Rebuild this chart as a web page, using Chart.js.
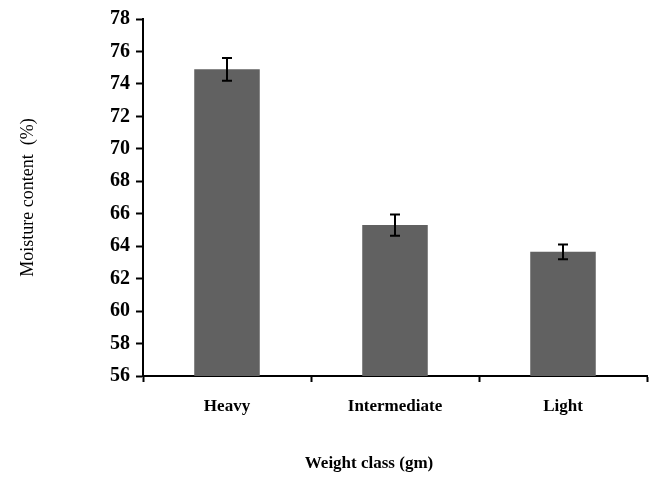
<!DOCTYPE html>
<html>
<head>
<meta charset="utf-8">
<script src="https://cdn.jsdelivr.net/npm/chart.js@4.4.1/dist/chart.umd.min.js"></script>
<style>
  html, body { margin: 0; padding: 0; background: #fff; }
  #wrap { width: 650px; height: 477px; position: relative; }
</style>
</head>
<body>
<div id="wrap"><canvas id="chart"></canvas></div>
<script>
// data
const categories = ['Heavy', 'Intermediate', 'Light'];
const moisture = [74.9, 65.3, 63.65];
const moistureErr = [0.7, 0.65, 0.45];
const yMin = 56;
const yMax = 78;
const yStep = 2;
const xTitle = 'Weight class (gm)';
const yTitle = 'Moisture content  (%)';

const serif = "'Liberation Serif', 'Times New Roman', serif";

// error bars drawn through the y scale
const errorBars = {
  id: 'errorBars',
  afterDatasetsDraw(chart) {
    const ctx = chart.ctx;
    const yScale = chart.scales.y;
    const meta = chart.getDatasetMeta(0);
    ctx.save();
    ctx.strokeStyle = '#000';
    ctx.lineWidth = 2;
    meta.data.forEach((bar, i) => {
      const top = yScale.getPixelForValue(moisture[i] + moistureErr[i]);
      const bot = yScale.getPixelForValue(moisture[i] - moistureErr[i]);
      const x = bar.x;
      ctx.beginPath();
      ctx.moveTo(x, top); ctx.lineTo(x, bot);
      ctx.moveTo(x - 5, top); ctx.lineTo(x + 5, top);
      ctx.moveTo(x - 5, bot); ctx.lineTo(x + 5, bot);
      ctx.stroke();
    });
    ctx.restore();
  }
};

// axis titles, placed like the original figure
const axisTitles = {
  id: 'axisTitles',
  afterDraw(chart) {
    const ctx = chart.ctx;
    const area = chart.chartArea;
    ctx.save();
    ctx.fillStyle = '#000';
    ctx.textAlign = 'center';
    ctx.textBaseline = 'middle';
    ctx.font = 'bold 17px ' + serif;
    ctx.fillText(xTitle, 369, 464);
    ctx.translate(28, (area.top + area.bottom) / 2);
    ctx.rotate(-Math.PI / 2);
    ctx.font = '18px ' + serif;
    ctx.fillText(yTitle, 0, 0);
    ctx.restore();
  }
};

new Chart(document.getElementById('chart'), {
  type: 'bar',
  data: {
    labels: categories,
    datasets: [{
      data: moisture,
      backgroundColor: '#616161',
      borderWidth: 0,
      barPercentage: 0.39,
      categoryPercentage: 1
    }]
  },
  options: {
    responsive: true,
    maintainAspectRatio: false,
    animation: false,
    layout: { padding: { top: 19, right: 3, left: 0, bottom: 0 } },
    plugins: {
      legend: { display: false },
      tooltip: { enabled: false }
    },
    scales: {
      x: {
        afterFit(scale) { scale.height = 101; },
        border: { color: '#000', width: 2 },
        grid: {
          offset: true,
          drawOnChartArea: false,
          drawTicks: true,
          tickLength: 6,
          tickColor: '#000',
          tickWidth: 2
        },
        ticks: {
          color: '#000',
          padding: 14,
          font: { family: serif, size: 17, weight: 'bold' }
        }
      },
      y: {
        min: yMin,
        max: yMax,
        afterFit(scale) { scale.width = 143; },
        border: { color: '#000', width: 2 },
        grid: {
          drawOnChartArea: false,
          drawTicks: true,
          tickLength: 7,
          tickColor: '#000',
          tickWidth: 2
        },
        ticks: {
          stepSize: yStep,
          color: '#000',
          padding: 6,
          font: { family: serif, size: 20, weight: 'bold' }
        }
      }
    }
  },
  plugins: [errorBars, axisTitles]
});
</script>
</body>
</html>
